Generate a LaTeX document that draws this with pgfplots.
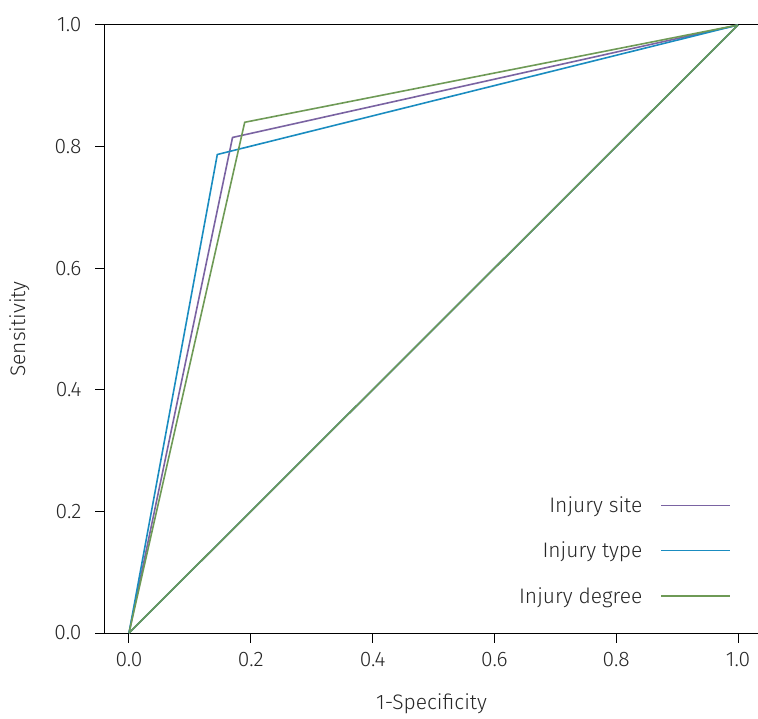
\documentclass[border=0pt]{standalone}
\usepackage{fontspec}
\setmainfont{Fira Sans Light}
\usepackage{pgfplots}
\pgfplotsset{compat=1.18}
\definecolor{cpurple}{HTML}{7A63A2}
\definecolor{cblue}{HTML}{1A8CC0}
\definecolor{cgreen}{HTML}{6E9A56}
\begin{document}
\begin{tikzpicture}
\useasboundingbox (-105pt,-85pt) rectangle (653pt,633pt);
\begin{axis}[
  at={(0,0)}, anchor=south west,
  scale only axis, width=653pt, height=608pt,
  xmin=-0.0394, xmax=1.0328, ymin=0, ymax=1,
  axis x line*=bottom, axis y line*=left,
  axis line style={black, line width=1pt},
  every tick/.style={black, line width=1pt},
  tick align=outside, major tick length=10pt,
  xtick={0,0.2,0.4,0.6,0.8,1.0}, ytick={0,0.2,0.4,0.6,0.8,1.0},
  /pgf/number format/.cd, fixed, fixed zerofill, precision=1, assume math mode=true, /pgfplots/.cd,
  tick label style={font=\fontsize{21}{24}\selectfont, text=black!85},
  xticklabel style={yshift=-6pt},
  yticklabel style={xshift=-10pt},
  label style={font=\fontsize{21}{24}\selectfont, text=black!85},
  xlabel={1-Specificity}, ylabel={Sensitivity},
  xlabel style={at={(axis description cs:0.5,0)}, anchor=south, yshift=-84pt},
  ylabel style={at={(axis description cs:-0.131,0.5)}, anchor=center},
  legend style={draw=none, fill=none, inner sep=0pt, at={(axis description cs:0.959,0.043)}, anchor=south east,
    font=\fontsize{21}{24}\selectfont, text=black!85, row sep=24pt,
    /tikz/every odd column/.append style={column sep=16pt}},
  legend cell align=right,
  legend plot pos=right,
  legend image code/.code={\draw[#1] (0pt,0pt) -- (69pt,0pt);},
  clip=false,
]
\draw[black, line width=1pt] (axis cs:-0.0394,1) -- (axis cs:1.0328,1);
\addplot[cpurple, line width=1.6pt] coordinates {(0,0) (0.17,0.815) (1,1)};
\addlegendentry{Injury site}
\addplot[cblue, line width=1.6pt] coordinates {(0,0) (0.145,0.787) (1,1)};
\addlegendentry{Injury type}
\addplot[cgreen, line width=1.6pt] coordinates {(0,0) (0.19,0.84) (1,1)};
\addlegendentry{Injury degree}
\addplot[cpurple, line width=1.6pt, forget plot] coordinates {(0,0) (1,1)};
\addplot[cblue, line width=1.6pt, forget plot] coordinates {(0,0) (1,1)};
\addplot[cgreen, line width=1.6pt, forget plot] coordinates {(0,0) (1,1)};
\end{axis}
\end{tikzpicture}
\end{document}
